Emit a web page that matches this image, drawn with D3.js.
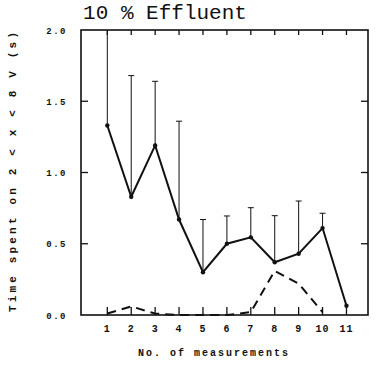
<!DOCTYPE html>
<html>
<head>
<meta charset="utf-8">
<script src="https://cdn.jsdelivr.net/npm/d3@7"></script>
<style>
  html, body { margin: 0; padding: 0; background: #fff; }
  svg { display: block; }
  text { font-family: "Liberation Mono", "DejaVu Sans Mono", monospace; font-weight: bold; fill: #111; }
</style>
</head>
<body>
<svg id="chart" width="377" height="381"></svg>
<script>
// Measurement numbers along the x axis
const measurements = [1, 2, 3, 4, 5, 6, 7, 8, 9, 10, 11];
// Mean time spent in the 2–8 V window (s)
const meanTime = [1.33, 0.83, 1.19, 0.67, 0.30, 0.50, 0.545, 0.37, 0.43, 0.61, 0.065];
// Upper end of the error bars (s); null = no bar
const errorTop = [2.0, 1.68, 1.64, 1.36, 0.67, 0.695, 0.753, 0.697, 0.80, 0.714, null];
// Second series (dashed)
const dashedTime = [0.01, 0.06, 0.01, 0, 0, 0, 0.02, 0.31, 0.22, 0.02, null];
// Y axis tick values and labels
const yTicks = [0, 0.5, 1.0, 1.5, 2.0];
const yTickLabels = ["0.0", "0.5", "1.0", "1.5", "2.0"];

const svg = d3.select("#chart");
const plotLeft = 81, plotRight = 368, plotTop = 30, plotBottom = 315;

const x = d3.scaleLinear().domain([-0.1, 11.9]).range([plotLeft, plotRight]);
const y = d3.scaleLinear().domain([0, 2.0]).range([plotBottom, plotTop]);

// Title
svg.append("text")
  .attr("x", 165).attr("y", 19)
  .attr("text-anchor", "middle")
  .style("font-size", "21px")
  .style("font-weight", "normal")
  .text("10 % Effluent");

// Plot frame
svg.append("rect")
  .attr("x", plotLeft).attr("y", plotTop)
  .attr("width", plotRight - plotLeft).attr("height", plotBottom - plotTop)
  .attr("fill", "none").attr("stroke", "#111").attr("stroke-width", 1.6);

// Inward ticks on all four sides
const gx = svg.append("g").attr("stroke", "#111").attr("stroke-width", 1.3);
measurements.forEach(m => {
  gx.append("line").attr("x1", x(m)).attr("x2", x(m)).attr("y1", plotBottom).attr("y2", plotBottom - 8);
  gx.append("line").attr("x1", x(m)).attr("x2", x(m)).attr("y1", plotTop).attr("y2", plotTop + 5);
});
yTicks.slice(1, -1).forEach(v => {
  gx.append("line").attr("x1", plotLeft).attr("x2", plotLeft + 7).attr("y1", y(v)).attr("y2", y(v));
  gx.append("line").attr("x1", plotRight).attr("x2", plotRight - 7).attr("y1", y(v)).attr("y2", y(v));
});

// X tick labels
svg.append("g").selectAll("text").data(measurements).join("text")
  .attr("x", d => x(d)).attr("y", 332)
  .attr("text-anchor", "middle")
  .style("font-size", "10px")
  .style("letter-spacing", "1px")
  .text(d => d);

// Y tick labels
svg.append("g").selectAll("text").data(yTicks).join("text")
  .attr("x", 67).attr("y", d => y(d) + 3.5)
  .attr("text-anchor", "end")
  .style("font-size", "9px")
  .style("letter-spacing", "1.5px")
  .text((d, i) => yTickLabels[i]);

// Axis titles
svg.append("text")
  .attr("x", 213).attr("y", 356)
  .attr("text-anchor", "middle")
  .style("font-size", "10px")
  .attr("textLength", 150).attr("lengthAdjust", "spacing")
  .text("No. of measurements");

svg.append("text")
  .attr("transform", "translate(16,172) rotate(-90)")
  .attr("text-anchor", "middle")
  .style("font-size", "11px")
  .attr("textLength", 280).attr("lengthAdjust", "spacing")
  .text("Time spent on 2 < x < 8 V (s)");

// Error bars
const bars = measurements.map((m, i) => ({ m, mean: meanTime[i], top: errorTop[i] }))
  .filter(d => d.top !== null);
const eb = svg.append("g").attr("stroke", "#111").attr("stroke-width", 1);
bars.forEach(d => {
  eb.append("line").attr("x1", x(d.m)).attr("x2", x(d.m)).attr("y1", y(d.mean)).attr("y2", y(d.top));
  if (d.top < 2.0) {
    eb.append("line").attr("x1", x(d.m) - 3).attr("x2", x(d.m) + 3).attr("y1", y(d.top)).attr("y2", y(d.top));
  }
});

// Mean line
const line = d3.line().defined(d => d[1] !== null).x(d => x(d[0])).y(d => y(d[1]));
svg.append("path")
  .datum(measurements.map((m, i) => [m, meanTime[i]]))
  .attr("d", line)
  .attr("fill", "none").attr("stroke", "#111").attr("stroke-width", 2)
  .attr("stroke-linejoin", "miter");
svg.append("g").selectAll("circle").data(measurements).join("circle")
  .attr("cx", d => x(d)).attr("cy", (d, i) => y(meanTime[i])).attr("r", 2.2)
  .attr("fill", "#111");

// Dashed series
svg.append("path")
  .datum(measurements.map((m, i) => [m, dashedTime[i]]))
  .attr("d", line)
  .attr("fill", "none").attr("stroke", "#111").attr("stroke-width", 2)
  .attr("stroke-dasharray", "9,6");
</script>
</body>
</html>
